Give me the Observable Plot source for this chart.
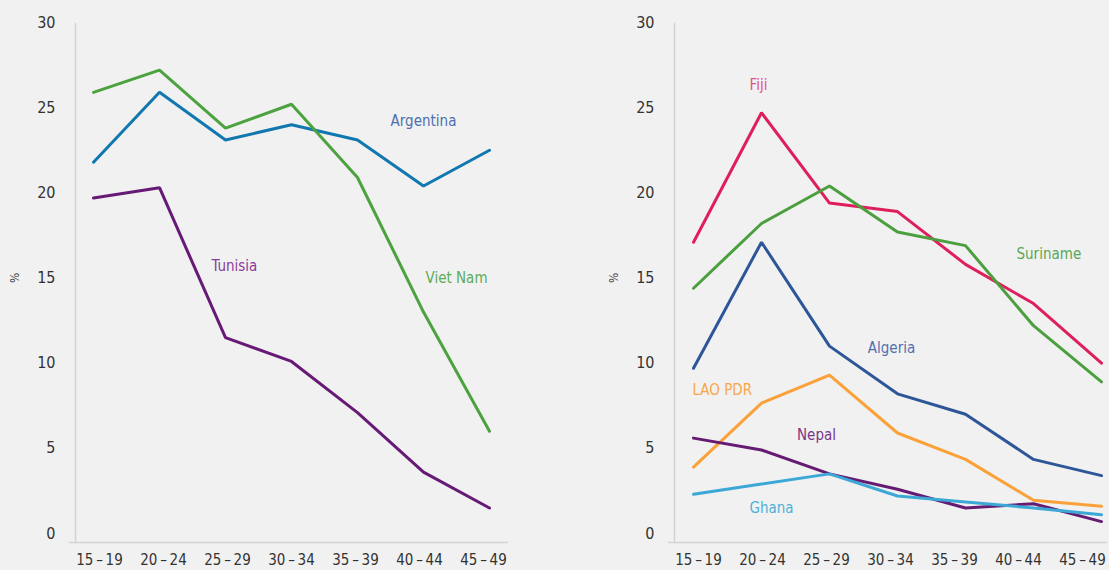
<!DOCTYPE html>
<html><head><meta charset="utf-8">
<script src="https://cdn.jsdelivr.net/npm/d3@7"></script>
<script src="https://cdn.jsdelivr.net/npm/@observablehq/plot@0.6"></script>
<style>
html,body{margin:0;padding:0;background:#f1f1f1;}
#wrap{display:flex;width:1109px;height:570px;overflow:hidden;}
.panel{position:relative;height:570px;}
.panel svg{display:block;}
.panel svg.overlay{position:absolute;left:0;top:0;pointer-events:none;}
</style></head><body><div id="wrap"></div>
<script>
const ages = ["15–19", "20–24", "25–29", "30–34", "35–39", "40–44", "45–49"];
const yTicks = [0, 5, 10, 15, 20, 25, 30];

// Left panel
const argentina = [21.8, 25.9, 23.1, 24.0, 23.1, 20.4, 22.5];
const vietNam   = [25.9, 27.2, 23.8, 25.2, 20.9, 13.0, 6.0];
const tunisia   = [19.7, 20.3, 11.5, 10.1, 7.1, 3.6, 1.5];

// Right panel
const fiji     = [17.1, 24.7, 19.4, 18.9, 15.8, 13.5, 10.0];
const suriname = [14.4, 18.2, 20.4, 17.7, 16.9, 12.2, 8.9];
const algeria  = [9.7, 17.1, 11.0, 8.2, 7.0, 4.35, 3.4];
const laoPdr   = [3.9, 7.65, 9.3, 5.9, 4.35, 1.95, 1.6];
const nepal    = [5.6, 4.9, 3.5, 2.6, 1.5, 1.75, 0.7];
const ghana    = [2.3, 2.9, 3.5, 2.2, 1.85, 1.5, 1.1];

const leftSeries = [
  {name: "Argentina", values: argentina, color: "#1177af", labelColor: "#4d6fb0"},
  {name: "Viet Nam", values: vietNam, color: "#4ba23f", labelColor: "#5eab58"},
  {name: "Tunisia", values: tunisia, color: "#661a76", labelColor: "#8a3d98"}
];
const rightSeries = [
  {name: "Fiji", values: fiji, color: "#df1f5b", labelColor: "#e2508a"},
  {name: "Suriname", values: suriname, color: "#4b9f3e", labelColor: "#5aa857"},
  {name: "Algeria", values: algeria, color: "#2d5698", labelColor: "#5170b0"},
  {name: "LAO PDR", values: laoPdr, color: "#fba13a", labelColor: "#f9a64a"},
  {name: "Nepal", values: nepal, color: "#661b73", labelColor: "#7a3688"},
  {name: "Ghana", values: ghana, color: "#3ba8d6", labelColor: "#4fb0d8"}
];

// Series label annotations (in data space)
const leftLabels = [
  {name: "Argentina", at: "40–44", value: 24.2, anchor: "middle", dx: 0},
  {name: "Viet Nam", at: "40–44", value: 15.0, anchor: "start", dx: 2},
  {name: "Tunisia", at: "25–29", value: 15.7, anchor: "start", dx: -14}
];
const rightLabels = [
  {name: "Fiji", at: "20–24", value: 26.3, anchor: "middle", dx: -3},
  {name: "Suriname", at: "40–44", value: 16.4, anchor: "start", dx: -17},
  {name: "Algeria", at: "30–34", value: 10.9, anchor: "middle", dx: -6},
  {name: "LAO PDR", at: "15–19", value: 8.4, anchor: "start", dx: -1},
  {name: "Nepal", at: "25–29", value: 5.75, anchor: "middle", dx: -13},
  {name: "Ghana", at: "20–24", value: 1.5, anchor: "middle", dx: 10}
];

const FONT = "'DejaVu Sans Condensed', 'Liberation Sans', sans-serif";

function panel(series, labels, cfg) {
  const rows = series.flatMap(s => s.values.map((v, i) => ({name: s.name, age: ages[i], value: v, color: s.color})));
  const colorOf = Object.fromEntries(series.map(s => [s.name, s.labelColor]));
  const labelMarks = labels.map(l => Plot.text([l], {
    x: "at", y: "value", text: "name", textAnchor: l.anchor, dx: l.dx,
    fill: colorOf[l.name], fontSize: 15
  }));
  const common = {
    width: cfg.width,
    height: 570,
    marginLeft: cfg.marginLeft,
    marginRight: cfg.marginRight,
    marginTop: 23,
    marginBottom: 28
  };
  const main = Plot.plot({
    ...common,
    style: {background: "#f1f1f1", fontFamily: FONT, color: "#333"},
    x: {type: "point", domain: ages, range: cfg.xRange, padding: 0, label: null, axis: null},
    y: {domain: [0, 30], range: [533, 22], label: null},
    marks: [
      Plot.frame({anchor: "left", stroke: "#d3d3d3", strokeWidth: 1.5}),
      Plot.frame({anchor: "bottom", stroke: "#d3d3d3", strokeWidth: 1.5, insetLeft: -6}),
      Plot.axisY({ticks: yTicks, tickSize: 0, tickPadding: 20, label: null, fontSize: 16, fill: "#333"}),
      Plot.text(["%"], {frameAnchor: "left", dx: -60, rotate: -90, fontSize: 12, fill: "#444"}),
      Plot.line(rows, {x: "age", y: "value", z: "name", stroke: "color", strokeWidth: 3, strokeLinejoin: "miter"}),
      ...labelMarks
    ]
  });
  // Category tick labels sit on their own evenly spaced band (as in the source chart)
  const ticks = Plot.plot({
    ...common,
    style: {background: "transparent", fontFamily: FONT, color: "#333"},
    x: {type: "point", domain: ages, range: cfg.tickRange, padding: 0, label: null},
    marks: [
      Plot.axisX({tickSize: 0, tickPadding: 12, label: null, fontSize: 15, fill: "#333",
        tickFormat: d => d.replace("–", "\u2009–\u2009")})
    ]
  });
  ticks.classList.add("overlay");
  const div = document.createElement("div");
  div.className = "panel";
  div.style.width = cfg.width + "px";
  div.appendChild(main);
  div.appendChild(ticks);
  return div;
}

const wrap = document.getElementById("wrap");
wrap.appendChild(panel(leftSeries, leftLabels, {width: 555, marginLeft: 75, marginRight: 48, xRange: [91, 491], tickRange: [97, 484]}));
wrap.appendChild(panel(rightSeries, rightLabels, {width: 554, marginLeft: 119, marginRight: 3, xRange: [136, 547], tickRange: [142, 528]}));
</script>
</body></html>
